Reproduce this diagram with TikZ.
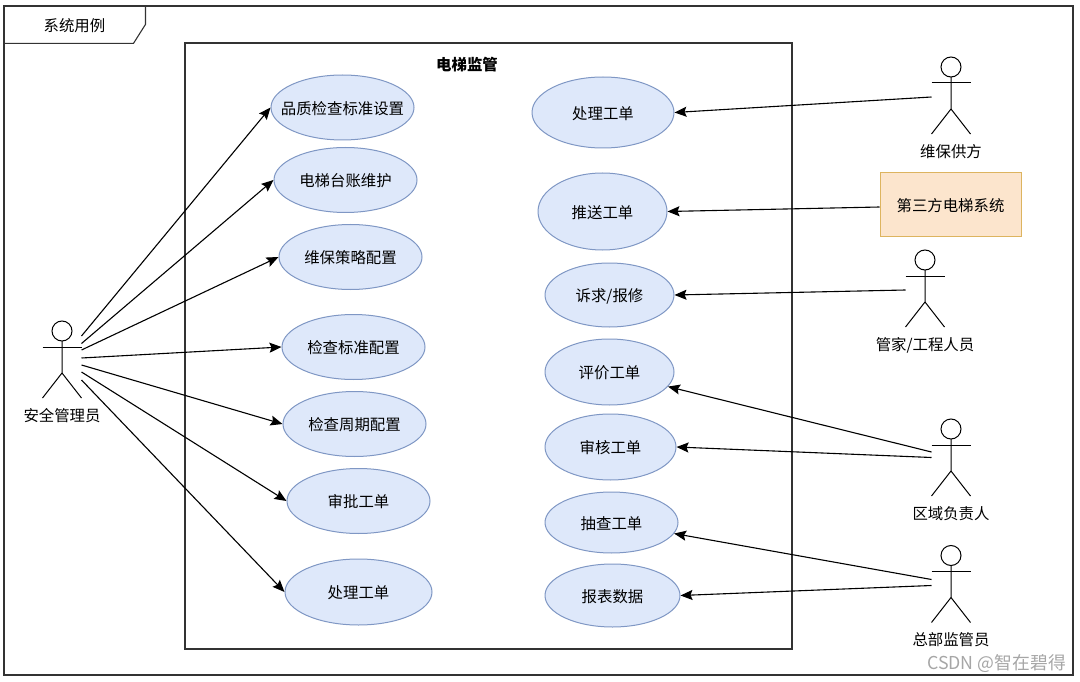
\documentclass[tikz,border=0pt]{standalone}
\usepackage{fontspec}
\setmainfont{Noto Sans CJK SC}
\usetikzlibrary{shapes.geometric,arrows.meta}
\definecolor{caseblue}{HTML}{DEE8FA}
\definecolor{caseline}{HTML}{7F97C4}
\definecolor{sysfill}{HTML}{FCE5CD}
\definecolor{sysline}{HTML}{DDB45F}
\definecolor{frameline}{HTML}{333333}
\tikzset{
  casefont/.style={font=\fontsize{15.4}{18}\selectfont,text height=15pt,text depth=1.5pt},
  usecase/.style={ellipse,draw=caseline,fill=caseblue,line width=1pt,minimum width=143pt,minimum height=65pt,inner xsep=-30pt,inner ysep=0pt,casefont},
  actorbox/.style={minimum width=39pt,minimum height=77pt,inner sep=0pt,outer sep=0pt},
  actortext/.style={casefont,inner sep=0pt,label distance=8pt},
  linkarrow/.style={line width=1.1pt,black,-{Stealth[length=12pt,width=10pt,inset=2pt]}},
}
\newcommand{\stickman}[3]{
\node[actorbox,label={[actortext]below:#3}] (#1) at (#2) {};
\draw [line width=1pt] (#1.north) ++(0,10) circle (10pt);
\draw [line width=1pt] (#1.north) ++(0,20) -- ++(0,32) -- ++(-19.5,25);
\draw [line width=1pt] (#1.north) ++(0,52) -- ++(19.5,25);
\draw [line width=1pt] (#1.north) ++(-19.5,26) -- ++(39,0);
}
\begin{document}
\begin{tikzpicture}[x=1pt,y=-1pt]
\useasboundingbox (0,0) rectangle (1080,682);
\node [draw=frameline,line width=1.1pt,minimum width=1069pt,minimum height=669pt,inner sep=0pt] (frame) at (538.5,340.5) {};
\node [draw=frameline,line width=1.1pt,minimum width=607pt,minimum height=606pt,inner sep=0pt] (system) at (488.5,346) {};
\draw [frameline,line width=1.1pt] (frame.north west) ++(0,38) -- ++(130,0) -- ++(12,-19) -- ++(0,-19);
\node [casefont] (title) at (74.5,25) {系统用例};
\node [casefont,font=\fontsize{15.4}{18}\selectfont\bfseries] (sysname) at (467,64) {电梯监管};

\node [usecase] (setquality) at (342.5,107.5) {品质检查标准设置};
\node [usecase] (ledger) at (345.5,180) {电梯台账维护};
\node [usecase] (strategy) at (350.5,257) {维保策略配置};
\node [usecase] (standard) at (353.5,347) {检查标准配置};
\node [usecase] (cycle) at (354.5,424) {检查周期配置};
\node [usecase] (approve) at (358.5,501) {审批工单};
\node [usecase,minimum width=147pt,minimum height=66pt] (handleleft) at (358.5,592) {处理工单};

\node [usecase,minimum width=142pt,minimum height=71pt] (handle) at (603,112.5) {处理工单};
\node [usecase,minimum width=129pt,minimum height=77pt] (push) at (602.5,211.5) {推送工单};
\node [usecase,minimum width=129pt,minimum height=64pt] (appeal) at (609.5,295) {诉求/报修};
\node [usecase,minimum width=129pt,minimum height=66pt] (rate) at (609.5,372) {评价工单};
\node [usecase,minimum width=131pt,minimum height=66pt] (audit) at (610.5,447) {审核工单};
\node [usecase,minimum width=133pt,minimum height=61pt] (spot) at (611.5,522.5) {抽查工单};
\node [usecase,minimum width=135pt,minimum height=63pt] (report) at (612.5,595.5) {报表数据};

\stickman{safety}{62,359.5}{安全管理员}
\stickman{vendor}{951,95.5}{维保供方}
\stickman{keeper}{925,288.5}{管家/工程人员}
\stickman{region}{951,457.5}{区域负责人}
\stickman{head}{951,584}{总部监管员}
\node [draw=sysline,fill=sysfill,line width=1pt,minimum width=141pt,minimum height=64pt,inner sep=0pt,casefont] (thirdparty) at (950.5,205) {第三方电梯系统};

\draw [linkarrow] ([yshift=23.5pt]safety.east) -- (setquality.west);
\draw [linkarrow] ([yshift=16pt]safety.east) -- (ledger.west);
\draw [linkarrow] ([yshift=9.5pt]safety.east) -- (strategy.west);
\draw [linkarrow] ([yshift=1.5pt]safety.east) -- (standard.west);
\draw [linkarrow] ([yshift=-5.5pt]safety.east) -- (cycle.west);
\draw [linkarrow] ([yshift=-12.5pt]safety.east) -- (approve.west);
\draw [linkarrow] ([yshift=-20.5pt]safety.east) -- (handleleft.west);

\draw [linkarrow] ([yshift=-1.5pt]vendor.west) -- (handle.east);
\draw [linkarrow] ([yshift=-2pt]thirdparty.west) -- (push.east);
\draw [linkarrow] ([yshift=-1.5pt]keeper.west) -- (appeal.east);
\draw [linkarrow] ([yshift=5.5pt]region.west) -- (rate.-14);
\draw [linkarrow] (region.west) -- (audit.east);
\draw [linkarrow] ([yshift=4.5pt]head.west) -- (spot.-10);
\draw [linkarrow] ([yshift=-1.5pt]head.west) -- (report.east);

\node [gray!70,font=\fontsize{17.8}{20}\selectfont] (mark) at (996.5,664) {CSDN @智在碧得};
\end{tikzpicture}
\end{document}
